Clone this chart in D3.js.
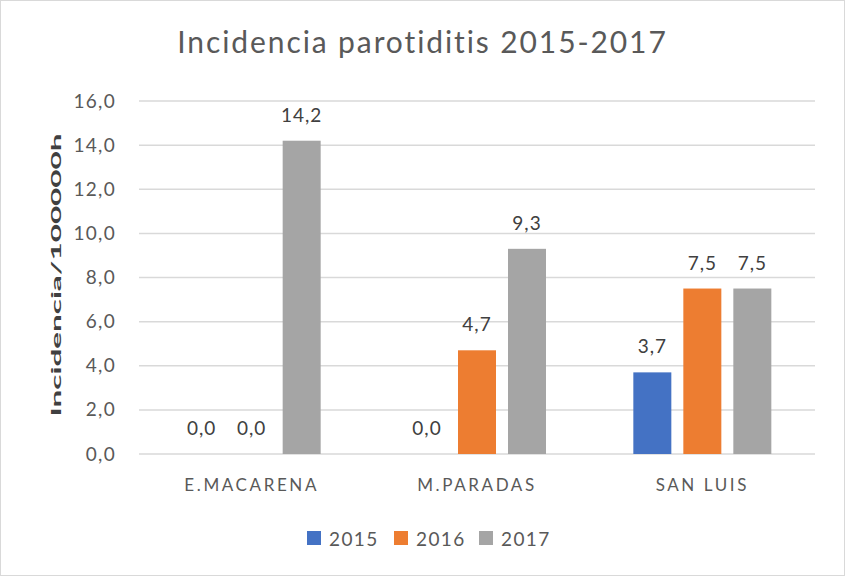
<!DOCTYPE html>
<html>
<head>
<meta charset="utf-8">
<script src="https://cdn.jsdelivr.net/npm/d3@7"></script>
<style>
  body { margin: 0; background: #fff; }
  svg { display: block; font-family: Lato, "Open Sans", sans-serif; }
</style>
</head>
<body>
<svg id="chart" width="845" height="576"></svg>
<script>
// datos
const centros = ["E.MACARENA", "M.PARADAS", "SAN LUIS"];
const anios = ["2015", "2016", "2017"];
const incid2015 = [0.0, 0.0, 3.7];
const incid2016 = [0.0, 4.7, 7.5];
const incid2017 = [14.2, 9.3, 7.5];
const ticksY = [0, 2, 4, 6, 8, 10, 12, 14, 16];
const colores = ["#4472C4", "#ED7D31", "#A5A5A5"];

const series = [incid2015, incid2016, incid2017];
const datos = [];
centros.forEach((c, i) => {
  anios.forEach((a, j) => {
    datos.push({ centro: c, anio: a, valor: series[j][i] });
  });
});

const svg = d3.select("#chart"),
  width = +svg.attr("width"),
  height = +svg.attr("height");

const fmt = (v) => d3.format(".1f")(v).replace(".", ",");

// borde
svg.append("rect")
  .attr("x", 0.5).attr("y", 0.5)
  .attr("width", width - 1).attr("height", height - 1)
  .attr("fill", "#fff").attr("stroke", "#d9d9d9");

const x0 = d3.scaleBand().domain(centros).range([139, 815]);
const x1 = d3.scaleBand().domain(anios).range([0, 138]).paddingInner(0.24);
const offset = (x0.bandwidth() - 138) / 2;
const y = d3.scaleLinear().domain([0, 16]).range([454, 101]);

// rejilla
svg.append("g")
  .selectAll("line")
  .data(ticksY)
  .enter().append("line")
  .attr("x1", 139).attr("x2", 815)
  .attr("y1", (d) => y(d)).attr("y2", (d) => y(d))
  .attr("stroke", "#d9d9d9")
  .attr("stroke-width", 1.5);

// eje y
const ejeY = svg.append("g")
  .attr("transform", "translate(119,0)")
  .call(d3.axisLeft(y).tickValues(ticksY).tickFormat(fmt).tickSize(0));
ejeY.select(".domain").remove();
ejeY.selectAll("text")
  .attr("fill", "#595959")
  .style("font-size", "19px")
  .style("letter-spacing", "1.3px")
  .style("font-family", "Lato, sans-serif");

// eje x
const ejeX = svg.append("g")
  .attr("transform", "translate(0,476)")
  .call(d3.axisBottom(x0).tickSize(0));
ejeX.select(".domain").remove();
ejeX.selectAll("text")
  .attr("fill", "#595959")
  .style("font-size", "17px")
  .style("letter-spacing", "2.6px")
  .style("font-family", "Lato, sans-serif");

// barras
const g = svg.append("g");
g.selectAll("rect")
  .data(datos)
  .enter().append("rect")
  .attr("x", (d) => x0(d.centro) + offset + x1(d.anio))
  .attr("y", (d) => y(d.valor))
  .attr("width", x1.bandwidth())
  .attr("height", (d) => y(0) - y(d.valor))
  .attr("fill", (d) => colores[anios.indexOf(d.anio)]);

// etiquetas de valor
g.selectAll("text")
  .data(datos)
  .enter().append("text")
  .attr("x", (d) => x0(d.centro) + offset + x1(d.anio) + x1.bandwidth() / 2)
  .attr("y", (d) => y(d.valor) - 19)
  .attr("text-anchor", "middle")
  .attr("fill", "#404040")
  .style("font-size", "19px")
  .style("letter-spacing", "1px")
  .text((d) => fmt(d.valor));

// titulo
svg.append("text")
  .attr("x", 422.5).attr("y", 53)
  .attr("text-anchor", "middle")
  .attr("fill", "#595959")
  .style("font-size", "30px")
  .style("letter-spacing", "1.9px")
  .text("Incidencia parotiditis 2015-2017");

// titulo eje y (comprimido como en el original)
svg.append("text")
  .attr("transform", "translate(61,275) rotate(-90)")
  .attr("text-anchor", "middle")
  .attr("fill", "#404040")
  .attr("textLength", 283)
  .attr("lengthAdjust", "spacingAndGlyphs")
  .style("font-size", "13px")
  .style("font-weight", "bold")
  .text("Incidencia/100000h");

// leyenda
const leyendaX = [307, 394, 479];
const ley = svg.append("g")
  .selectAll("g")
  .data(anios)
  .enter().append("g")
  .attr("transform", (d, i) => `translate(${leyendaX[i]},531)`);
ley.append("rect")
  .attr("width", 14).attr("height", 14)
  .attr("fill", (d, i) => colores[i]);
ley.append("text")
  .attr("x", 22).attr("y", 14.5)
  .attr("fill", "#595959")
  .style("font-size", "19px")
  .style("letter-spacing", "1.4px")
  .text((d) => d);
</script>
</body>
</html>
